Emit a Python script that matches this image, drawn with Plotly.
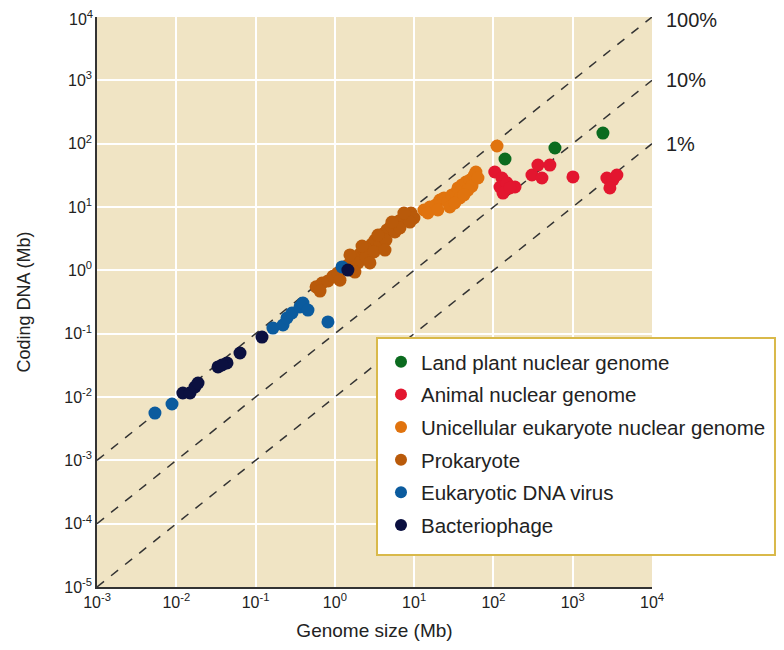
import math
import plotly.graph_objects as go

# ---------------- data (Mb) ----------------
plant_x = [140, 597, 2404]
plant_y = [57.3, 85.5, 147]

animal_x = [104, 128, 121, 148, 132, 187, 161, 306, 364, 515, 409, 1007, 2698, 3211, 2944, 3606]
animal_y = [35.7, 28.7, 20.7, 23.9, 16.6, 20.7, 20.0, 32.0, 46.0, 46.0, 28.7, 29.8, 28.7, 26.7, 20.0, 32.0]

unicell_x = [13.3, 15.8, 14.9, 18.8, 21.1, 23.8, 26.7, 30.0, 33.7, 35.7, 40.1, 45.0, 50.6, 56.8, 53.6, 47.7, 60.1,
             37.8, 28.2, 19.9, 32.6, 63.8, 42.5, 111]
unicell_y = [8.96, 10.0, 8.04, 10.8, 12.9, 13.9, 12.0, 15.5, 16.6, 20.0, 22.3, 24.8, 26.7, 30.9, 21.4, 18.5, 35.7,
             13.9, 10.0, 8.96, 11.6, 28.7, 15.5, 91.8]

prok_x = [0.58, 0.69, 0.82, 0.65, 0.95, 1.09, 1.26, 1.46, 1.64, 1.85, 2.07, 1.96, 2.33, 2.61, 2.94, 2.47, 3.21,
          3.60, 4.04, 3.71, 4.54, 5.10, 5.73, 6.43, 7.22, 8.11, 9.12, 9.94, 4.41, 5.73, 3.11, 6.62, 8.85, 1.64,
          1.55, 2.20, 3.50, 5.25, 7.43, 1.16, 1.79, 2.77, 4.29]
prok_y = [0.55, 0.63, 0.68, 0.47, 0.81, 0.91, 1.09, 1.21, 1.35, 1.57, 1.81, 1.31, 2.10, 2.33, 2.60, 1.63, 3.01,
          3.36, 3.75, 2.60, 4.34, 5.01, 5.59, 6.01, 6.70, 7.48, 8.04, 6.70, 3.01, 4.03, 1.95, 4.66, 5.79, 1.01,
          1.75, 2.42, 3.61, 5.79, 8.04, 0.70, 0.94, 1.31, 2.09]

virus_x = [0.00538, 0.00883, 0.1656, 0.222, 0.249, 0.288, 0.363, 0.396, 0.458, 0.818, 1.23]
virus_y = [0.00558, 0.00775, 0.1227, 0.137, 0.177, 0.212, 0.264, 0.305, 0.236, 0.153, 1.13]

phage_x = [0.0121, 0.0149, 0.0172, 0.0188, 0.0336, 0.0436, 0.0377, 0.0636, 0.1205, 1.46]
phage_y = [0.01156, 0.01156, 0.01439, 0.01663, 0.0298, 0.0345, 0.032, 0.0495, 0.0885, 1.01]

ratios = [1.0, 0.1, 0.01]
ratio_labels = ["100%", "10%", "1%"]
line_x = [1e-3, 1e4]

tick_x = [1e-3, 1e-2, 1e-1, 1e0, 1e1, 1e2, 1e3, 1e4]
tick_x_text = ["10<sup>-3</sup>", "10<sup>-2</sup>", "10<sup>-1</sup>", "10<sup>0</sup>",
               "10<sup>1</sup>", "10<sup>2</sup>", "10<sup>3</sup>", "10<sup>4</sup>"]
tick_y = [1e-5, 1e-4, 1e-3, 1e-2, 1e-1, 1e0, 1e1, 1e2, 1e3]
tick_y_text = ["10<sup>-5</sup>", "10<sup>-4</sup>", "10<sup>-3</sup>", "10<sup>-2</sup>", "10<sup>-1</sup>",
               "10<sup>0</sup>", "10<sup>1</sup>", "10<sup>2</sup>", "10<sup>3</sup>"]
top_y_tick = 1e4
top_y_text = "10<sup>4</sup>"

FONT = "Liberation Sans, Arial, sans-serif"

fig = go.Figure()

# reference dashed lines
for r in ratios:
    fig.add_trace(go.Scatter(x=line_x, y=[v * r for v in line_x], mode="lines",
                             line=dict(color="#333333", width=1.5, dash="dash"),
                             showlegend=False, hoverinfo="skip"))

series = [
    ("Land plant nuclear genome", plant_x, plant_y, "#0b6b1f"),
    ("Animal nuclear genome", animal_x, animal_y, "#e3162f"),
    ("Unicellular eukaryote nuclear genome", unicell_x, unicell_y, "#e0730e"),
    ("Prokaryote", prok_x, prok_y, "#b95a0a"),
    ("Eukaryotic DNA virus", virus_x, virus_y, "#0b5b9e"),
    ("Bacteriophage", phage_x, phage_y, "#0b1040"),
]
for i, (name, xs, ys, col) in enumerate(series):
    fig.add_trace(go.Scatter(x=xs, y=ys, mode="markers", name=name, legendgroup=f"g{i}",
                             marker=dict(size=13, color=col, line=dict(width=0))))

for r, lab in zip(ratios, ratio_labels):
    fig.add_annotation(x=4, y=4 + math.log10(r), xref="x", yref="y", text=lab,
                       showarrow=False, xanchor="left", yanchor="middle", xshift=12,
                       yshift=-3 if r == 1.0 else 0,
                       font=dict(size=20, color="#222", family=FONT))

# top y tick label (drawn as annotation so it is not dropped at the page edge)
fig.add_annotation(x=0, y=math.log10(top_y_tick), xref="paper", yref="y", text=top_y_text,
                   showarrow=False, xanchor="right", yanchor="middle", xshift=-2, yshift=-1,
                   font=dict(size=16, color="#222", family=FONT))

# legend box
fig.add_shape(type="rect", xref="paper", yref="paper", x0=0.5045, x1=1.2216, y0=0.0561, y1=0.437,
              fillcolor="white", line=dict(color="#d9b94a", width=2), layer="above")

fig.update_layout(
    width=768, height=634,
    margin=dict(l=89, r=124, t=9, b=55, autoexpand=False),
    paper_bgcolor="white", plot_bgcolor="#f0e4c4",
    font=dict(family=FONT, color="#222"),
    legend=dict(x=0.5117, y=0.430, xanchor="left", yanchor="top",
                bgcolor="rgba(0,0,0,0)", borderwidth=0,
                font=dict(size=20.5, family=FONT, color="#222"),
                tracegroupgap=3, itemsizing="constant"),
    xaxis=dict(type="log", range=[-3, 4], tickvals=tick_x, ticktext=tick_x_text,
               showgrid=True, gridcolor="white", gridwidth=2, zeroline=False,
               showline=True, linecolor="#333", linewidth=1.5, ticks="", automargin=False,
               tickfont=dict(size=16, family=FONT, color="#222"),
               title=dict(text="Genome size (Mb)", font=dict(size=19, family=FONT, color="#222"), standoff=14)),
    yaxis=dict(type="log", range=[-5, 4], tickvals=tick_y, ticktext=tick_y_text,
               showgrid=True, gridcolor="white", gridwidth=2, zeroline=False,
               showline=True, linecolor="#333", linewidth=1.5, ticks="", automargin=False,
               tickfont=dict(size=16, family=FONT, color="#222"),
               title=dict(text="Coding DNA (Mb)", font=dict(size=18, family=FONT, color="#222"), standoff=29)),
)

fig.write_html("out.html")
